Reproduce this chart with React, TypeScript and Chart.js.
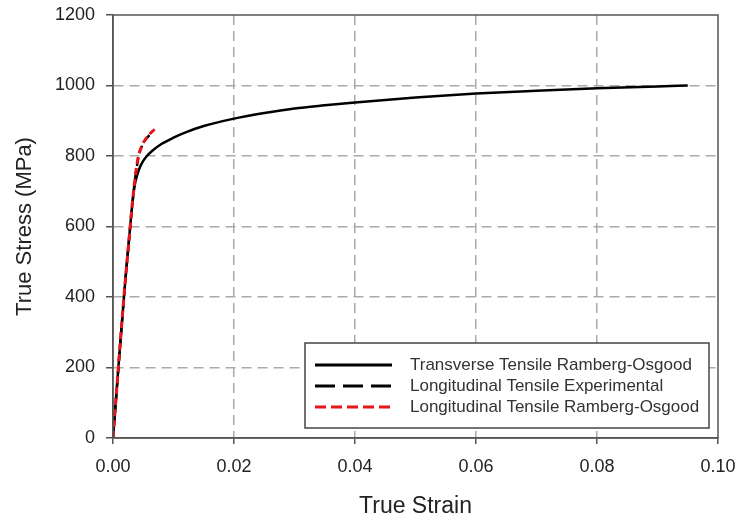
import React, { useEffect, useRef } from "react";
import { Chart, registerables } from "chart.js";

Chart.register(...registerables);

const xTicks = [0, 0.02, 0.04, 0.06, 0.08, 0.1];
const yTicks = [0, 200, 400, 600, 800, 1000, 1200];

const transverseStrain = [0, 0.001, 0.002, 0.0025, 0.003, 0.0035, 0.004, 0.0045, 0.005, 0.0056, 0.0065, 0.008, 0.01, 0.012, 0.015, 0.02, 0.025, 0.03, 0.035, 0.04, 0.05, 0.06, 0.07, 0.08, 0.09, 0.095];
const transverseStress = [0, 225, 440, 535, 630, 708, 746, 770, 786, 800, 815, 834, 852, 867, 885, 906, 922, 935, 944, 952, 966, 977, 985, 992, 997, 1000];

const expStrain = [0, 0.0005, 0.001, 0.0015, 0.002, 0.0025, 0.003, 0.0034, 0.0037, 0.004, 0.0042, 0.0045, 0.005, 0.0056, 0.0062];
const expStress = [0, 110, 222, 332, 438, 534, 628, 698, 742, 776, 796, 816, 836, 851, 862];

const roStrain = [0, 0.0005, 0.001, 0.0015, 0.002, 0.0025, 0.003, 0.0034, 0.0037, 0.004, 0.0042, 0.0044, 0.0047, 0.0052, 0.0058, 0.0065, 0.0072];
const roStress = [0, 112, 225, 335, 440, 535, 630, 700, 745, 780, 800, 812, 826, 843, 857, 870, 880];

const labels = [
  "Transverse Tensile Ramberg-Osgood",
  "Longitudinal Tensile Experimental",
  "Longitudinal Tensile Ramberg-Osgood",
];

const legendDash = [[], [20, 8], [11, 5]];

const FONT = "'Liberation Sans', Arial, sans-serif";

const toPts = (xs: number[], ys: number[]) => xs.map((x, i) => ({ x, y: ys[i] }));

const framePlugin = {
  id: "frameAndLegend",
  afterDraw(chart: any) {
    const { ctx, chartArea } = chart;
    const { left, right, top, bottom } = chartArea;
    ctx.save();
    ctx.strokeStyle = "#555";
    ctx.lineWidth = 1.5;
    ctx.setLineDash([]);
    ctx.strokeRect(left, top, right - left, bottom - top);

    // legend box
    const bx = left + 192, by = top + 328, bw = 404, bh = 85;
    ctx.fillStyle = "#fff";
    ctx.fillRect(bx, by, bw, bh);
    ctx.strokeStyle = "#444";
    ctx.lineWidth = 1.5;
    ctx.strokeRect(bx, by, bw, bh);

    const ds = chart.data.datasets;
    const rowsY = [by + 22, by + 43, by + 64];
    ds.forEach((d: any, i: number) => {
      const y = rowsY[i];
      ctx.beginPath();
      ctx.strokeStyle = d.borderColor;
      ctx.lineWidth = 3;
      ctx.setLineDash(legendDash[i]);
      ctx.moveTo(bx + 10, y);
      ctx.lineTo(bx + 87, y);
      ctx.stroke();
      ctx.setLineDash([]);
      ctx.fillStyle = "#333";
      ctx.font = `17px ${FONT}`;
      ctx.textBaseline = "middle";
      ctx.textAlign = "left";
      ctx.fillText(d.label, bx + 105, y);
    });
    ctx.restore();
  },
};

export default function App() {
  const ref = useRef<HTMLCanvasElement | null>(null);
  useEffect(() => {
    document.body.style.margin = "0";
    const canvas = ref.current!;
    const chart = new Chart(canvas, {
      type: "scatter",
      data: {
        datasets: [
          {
            label: labels[0],
            data: toPts(transverseStrain, transverseStress),
            borderColor: "#000",
            borderWidth: 2.5,
            showLine: true,
            pointRadius: 0,
            cubicInterpolationMode: "monotone",
            order: 2,
          } as any,
          {
            label: labels[1],
            data: toPts(expStrain, expStress),
            borderColor: "#000",
            borderWidth: 2.5,
            borderDash: [8, 5],
            showLine: true,
            pointRadius: 0,
            cubicInterpolationMode: "monotone",
            order: 1,
          },
          {
            label: labels[2],
            data: toPts(roStrain, roStress),
            borderColor: "#e8141c",
            borderWidth: 3,
            borderDash: [7, 4],
            showLine: true,
            pointRadius: 0,
            cubicInterpolationMode: "monotone",
            order: 0,
          },
        ],
      },
      options: {
        animation: false,
        responsive: false,
        maintainAspectRatio: false,
        layout: { padding: { top: 15, right: 24, left: 0, bottom: 0 } },
        plugins: { legend: { display: false }, tooltip: { enabled: false } },
        scales: {
          x: {
            type: "linear",
            min: 0,
            max: 0.1,
            afterBuildTicks: (s: any) => {
              s.ticks = xTicks.map((v) => ({ value: v }));
            },
            afterFit: (s: any) => {
              s.height = 84;
              s.paddingLeft = 0;
              s.paddingRight = 0;
            },
            ticks: {
              color: "#222",
              font: { family: FONT, size: 18 },
              padding: 12,
              maxRotation: 0,
              callback: (v: any) => Number(v).toFixed(2),
            },
            grid: {
              color: (c: any) => (c.index === 0 || c.index === xTicks.length - 1 ? "rgba(0,0,0,0)" : "#aaa"),
              lineWidth: 1.5,
              tickColor: "#555",
              tickLength: 6,
            },
            border: { display: true, color: "#555", width: 1.5, dash: [10, 6] },
            title: {
              display: true,
              text: "True Strain",
              color: "#222",
              font: { family: FONT, size: 23 },
              padding: { top: 4, bottom: 2 },
            },
          },
          y: {
            type: "linear",
            min: 0,
            max: 1200,
            afterBuildTicks: (s: any) => {
              s.ticks = yTicks.map((v) => ({ value: v }));
            },
            afterFit: (s: any) => {
              s.width = 113;
              s.paddingTop = 0;
              s.paddingBottom = 0;
            },
            ticks: {
              color: "#222",
              font: { family: FONT, size: 18 },
              padding: 11,
              callback: (v: any) => String(v),
            },
            grid: {
              color: (c: any) => (c.index === 0 || c.index === yTicks.length - 1 ? "rgba(0,0,0,0)" : "#aaa"),
              lineWidth: 1.5,
              tickColor: "#555",
              tickLength: 7,
            },
            border: { display: true, color: "#555", width: 1.5, dash: [10, 6] },
            title: {
              display: true,
              text: "True Stress (MPa)",
              color: "#222",
              font: { family: FONT, size: 22 },
              padding: { top: 12, bottom: 0 },
            },
          },
        },
      },
      plugins: [framePlugin],
    });
    return () => chart.destroy();
  }, []);
  return <canvas ref={ref} width={742} height={522} style={{ display: "block" }} />;
}
